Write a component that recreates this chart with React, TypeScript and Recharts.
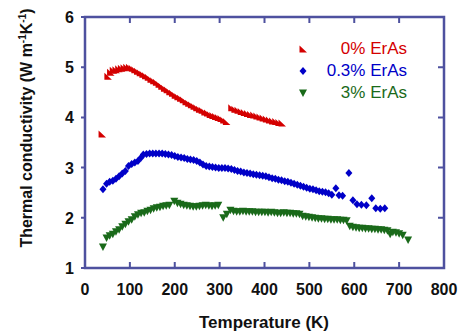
import React from 'react';
import { ScatterChart, Scatter, XAxis, YAxis, Legend, Label, ReferenceArea } from 'recharts';

// 0% ErAs
const temps0 = [38, 51, 57, 63, 69, 75, 81, 87, 93, 99, 105, 111, 117, 123, 129, 135, 141, 147, 153, 159, 165, 171, 177, 183, 189, 195, 201, 207, 213, 219, 225, 231, 237, 243, 249, 255, 261, 267, 273, 279, 285, 291, 297, 303, 309, 315, 327, 334, 341, 348, 355, 362, 369, 376, 383, 390, 397, 404, 411, 418, 425, 432, 439];
const kappa0 = [3.67, 4.82, 4.9, 4.94, 4.95, 4.97, 4.98, 4.99, 5.0, 5.0, 4.98, 4.95, 4.92, 4.89, 4.86, 4.83, 4.8, 4.76, 4.73, 4.7, 4.66, 4.62, 4.58, 4.55, 4.51, 4.48, 4.44, 4.41, 4.38, 4.35, 4.31, 4.28, 4.25, 4.22, 4.19, 4.16, 4.14, 4.11, 4.09, 4.06, 4.04, 4.02, 4.0, 3.98, 3.95, 3.92, 4.19, 4.16, 4.14, 4.12, 4.1, 4.08, 4.06, 4.05, 4.03, 4.01, 3.99, 3.97, 3.95, 3.93, 3.92, 3.9, 3.89];

// 0.3% ErAs
const temps03 = [40, 48, 55, 62, 69, 76, 83, 90, 97, 104, 111, 118, 125, 130, 137, 144, 151, 158, 165, 172, 179, 186, 193, 200, 207, 214, 221, 228, 235, 242, 249, 256, 263, 270, 277, 284, 291, 298, 305, 312, 319, 326, 333, 340, 347, 354, 361, 368, 375, 382, 389, 396, 403, 410, 417, 424, 431, 438, 445, 452, 459, 466, 473, 480, 487, 494, 501, 508, 515, 522, 529, 536, 543, 550, 559, 566, 574, 588, 597, 606, 616, 627, 639, 648, 658, 668];
const kappa03 = [2.57, 2.68, 2.72, 2.74, 2.78, 2.83, 2.88, 2.93, 3.03, 3.07, 3.1, 3.13, 3.2, 3.26, 3.27, 3.28, 3.28, 3.28, 3.28, 3.28, 3.27, 3.26, 3.25, 3.23, 3.21, 3.2, 3.19, 3.17, 3.16, 3.15, 3.13, 3.1, 3.06, 3.03, 3.02, 3.01, 3.0, 2.99, 2.99, 2.99, 2.98, 2.97, 2.95, 2.93, 2.92, 2.9, 2.89, 2.88, 2.87, 2.86, 2.85, 2.84, 2.83, 2.81, 2.79, 2.78, 2.76, 2.75, 2.73, 2.72, 2.7, 2.68, 2.66, 2.64, 2.62, 2.6, 2.58, 2.57, 2.55, 2.53, 2.52, 2.51, 2.49, 2.46, 2.59, 2.45, 2.44, 2.89, 2.35, 2.27, 2.26, 2.25, 2.39, 2.19, 2.18, 2.19];

// 3% ErAs
const temps3 = [40, 48, 55, 62, 69, 76, 83, 90, 97, 104, 111, 118, 125, 132, 139, 146, 153, 160, 167, 174, 181, 188, 199, 206, 213, 220, 227, 234, 241, 248, 255, 262, 269, 276, 283, 290, 297, 308, 316, 324, 331, 338, 345, 352, 359, 366, 373, 380, 387, 394, 401, 408, 415, 422, 429, 436, 443, 450, 457, 464, 471, 478, 485, 492, 499, 506, 513, 520, 527, 534, 541, 548, 555, 562, 569, 576, 583, 590, 597, 604, 611, 618, 625, 632, 639, 646, 653, 660, 667, 674, 680, 686, 693, 700, 708, 720];
const kappa3 = [1.42, 1.6, 1.64, 1.67, 1.72, 1.76, 1.82, 1.87, 1.92, 1.96, 2.02, 2.06, 2.09, 2.1, 2.13, 2.15, 2.18, 2.2, 2.21, 2.23, 2.24, 2.25, 2.33, 2.29, 2.27, 2.25, 2.24, 2.23, 2.22, 2.22, 2.23, 2.24, 2.25, 2.24, 2.23, 2.24, 2.25, 2.0, 2.07, 2.15, 2.13, 2.12, 2.12, 2.13, 2.12, 2.12, 2.12, 2.11, 2.11, 2.11, 2.11, 2.1, 2.11, 2.1, 2.09, 2.09, 2.1, 2.09, 2.09, 2.08, 2.08, 2.07, 2.03, 2.02, 2.01, 2.0, 1.99, 1.98, 1.98, 1.97, 1.97, 1.96, 1.96, 1.96, 1.95, 1.95, 1.94, 1.83, 1.81, 1.8, 1.79, 1.79, 1.78, 1.78, 1.77, 1.77, 1.76, 1.76, 1.75, 1.74, 1.67, 1.71, 1.7, 1.68, 1.65, 1.56];

const xTicks = [0, 100, 200, 300, 400, 500, 600, 700, 800];
const yTicks = [1, 2, 3, 4, 5, 6];

const AXIS = '#4e519f';
const FONT = '"Liberation Sans", Arial, sans-serif';

const toPoints = (t: number[], k: number[]) => t.map((x, i) => ({ t: x, k: k[i] }));

type Marker = 'tri' | 'diamond' | 'down';

const MarkerShape = ({ cx, cy, kind, fill }: { cx: number; cy: number; kind: Marker; fill: string }) => {
  let pts = '';
  if (kind === 'tri') pts = `${cx - 3.5},${cy - 3.5} ${cx - 3.5},${cy + 3.5} ${cx + 4},${cy + 3.5}`;
  else if (kind === 'diamond') pts = `${cx},${cy - 4} ${cx + 3.5},${cy} ${cx},${cy + 4} ${cx - 3.5},${cy}`;
  else pts = `${cx - 4},${cy - 3.5} ${cx + 4},${cy - 3.5} ${cx},${cy + 4}`;
  return <polygon points={pts} fill={fill} />;
};

const series = [
  { name: '0% ErAs', data: toPoints(temps0, kappa0), color: '#d40000', marker: 'tri' as Marker },
  { name: '0.3% ErAs', data: toPoints(temps03, kappa03), color: '#0000c8', marker: 'diamond' as Marker },
  { name: '3% ErAs', data: toPoints(temps3, kappa3), color: '#1a6a1a', marker: 'down' as Marker },
];

// bottom labels + inward tick marks on bottom and top edges
const BottomTick = (props: any) => {
  const { x, y, payload } = props;
  return (
    <g>
      <path d={`M${x},${y}V${y - 6}M${x},17V23`} stroke={AXIS} strokeWidth={2} fill="none" />
      <text x={x} y={y + 27} textAnchor="middle" fontFamily={FONT} fontWeight="bold" fontSize={16} fill="#111">
        {payload.value}
      </text>
    </g>
  );
};

// left labels + short outer ticks, inward ticks on right edge
const LeftTick = (props: any) => {
  const { x, y, payload } = props;
  return (
    <g>
      <path d={`M${x - 4},${y}H${x}M438,${y}H444`} stroke={AXIS} strokeWidth={2} fill="none" />
      <text x={x - 11} y={y + 6} textAnchor="end" fontFamily={FONT} fontWeight="bold" fontSize={16} fill="#111">
        {payload.value}
      </text>
    </g>
  );
};

const LegendBox = () => (
  <div style={{ fontFamily: FONT, fontSize: 17 }}>
    {series.map((s) => (
      <div key={s.name} style={{ display: 'flex', alignItems: 'center', height: 22 }}>
        <svg width={12} height={12} style={{ marginLeft: 5 }}>
          <MarkerShape cx={6} cy={6} kind={s.marker} fill={s.color} />
        </svg>
        <span style={{ flex: 1, textAlign: 'right', color: s.color }}>{s.name}</span>
      </div>
    ))}
  </div>
);

export default function App() {
  return (
    <div style={{ position: 'absolute', left: 0, top: 0, background: '#fff' }}>
      <ScatterChart width={458} height={335} margin={{ top: 17, right: 14, bottom: 0, left: 0 }}>
        <XAxis
          xAxisId="bottom"
          dataKey="t"
          type="number"
          domain={[0, 800]}
          ticks={xTicks}
          height={67}
          tickSize={0}
          tickMargin={0}
          tickLine={false}
          axisLine={false}
          tick={<BottomTick />}
          interval={0}
        >
          <Label
            content={() => (
              <text x={264} y={328} textAnchor="middle" fontFamily={FONT} fontWeight="bold" fontSize={17} fill="#111">
                Temperature (K)
              </text>
            )}
          />
        </XAxis>
        <YAxis
          yAxisId="left"
          dataKey="k"
          type="number"
          domain={[1, 6]}
          ticks={yTicks}
          width={85}
          tickSize={0}
          tickMargin={0}
          tickLine={false}
          axisLine={false}
          tick={<LeftTick />}
          interval={0}
        >
          <Label
            content={() => (
              <text
                x={32}
                y={128}
                transform="rotate(-90 32 128)"
                textAnchor="middle"
                fontFamily={FONT}
                fontWeight="bold"
                fontSize={16}
                fill="#111"
              >
                Thermal conductivity (W m
                <tspan fontSize={10} dy={-6}>-1</tspan>
                <tspan dy={6}>K</tspan>
                <tspan fontSize={10} dy={-6}>-1</tspan>
                <tspan dy={6}>)</tspan>
              </text>
            )}
          />
        </YAxis>
        <ReferenceArea
          xAxisId="bottom"
          yAxisId="left"
          x1={0}
          x2={800}
          y1={1}
          y2={6}
          fill="#ffffff"
          fillOpacity={0}
          stroke={AXIS}
          strokeWidth={2.5}
          strokeOpacity={1}
          ifOverflow="visible"
        />
        <Legend
          layout="vertical"
          align="center"
          verticalAlign="middle"
          wrapperStyle={{ left: 292, top: 38, width: 115 }}
          content={() => <LegendBox />}
        />
        {series.map((s) => (
          <Scatter
            key={s.name}
            name={s.name}
            data={s.data}
            xAxisId="bottom"
            yAxisId="left"
            fill={s.color}
            isAnimationActive={false}
            shape={(p: any) => <MarkerShape cx={p.cx} cy={p.cy} kind={s.marker} fill={s.color} />}
          />
        ))}
      </ScatterChart>
    </div>
  );
}
